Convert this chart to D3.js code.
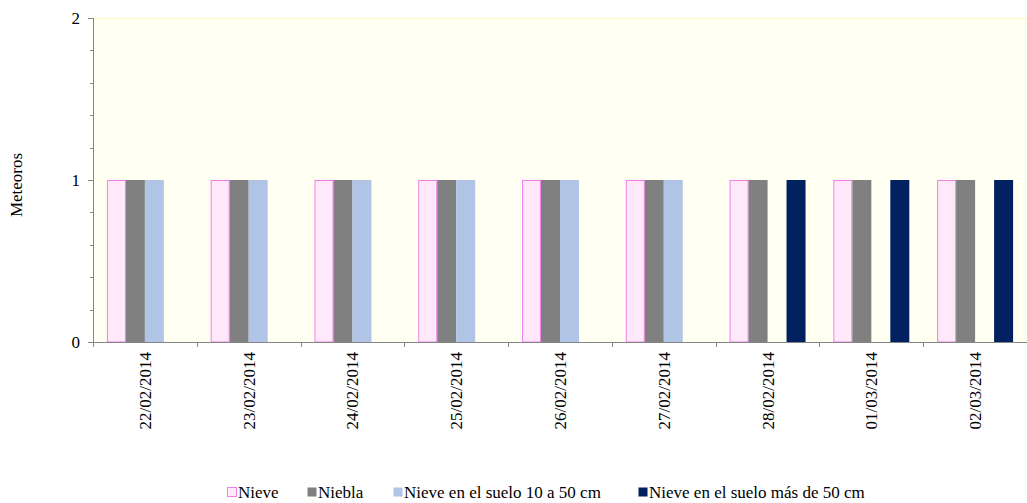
<!DOCTYPE html>
<html><head><meta charset="utf-8">
<script src="https://cdn.jsdelivr.net/npm/d3@7"></script>
</head><body style="margin:0;background:#fff">
<svg id="c" width="1027" height="503" style="font-family:'Liberation Serif';font-size:17px"></svg>
<script>
const categories = ["22/02/2014","23/02/2014","24/02/2014","25/02/2014","26/02/2014","27/02/2014","28/02/2014","01/03/2014","02/03/2014"];
const seriesNames = ["Nieve","Niebla","Nieve en el suelo 10 a 50 cm","Nieve en el suelo más de 50 cm"];
const nieve   = [1,1,1,1,1,1,1,1,1];
const niebla  = [1,1,1,1,1,1,1,1,1];
const suelo10 = [1,1,1,1,1,1,0,0,0];
const suelo50 = [0,0,0,0,0,0,1,1,1];
const yTicks = [0,1,2];

const seriesValues = [nieve, niebla, suelo10, suelo50];
const fills = ["#FFE8FA","#808080","#B0C4E6","#002060"];
const strokes = ["#F080E8","#808080","#B0C4E6","#002060"];

const svg = d3.select("#c");
const L = 93, R = 1027, T = 18, B = 342;

svg.append("rect").attr("x",L).attr("y",T).attr("width",R-L).attr("height",B-T).attr("fill","#FFFFF2");
svg.append("line").attr("x1",L).attr("x2",R).attr("y1",T+0.5).attr("y2",T+0.5).attr("stroke","#FFF8D0").attr("stroke-width",1.5);

const x = d3.scaleBand().domain(categories).range([L,R]).paddingInner(0.268).paddingOuter(0.134);
const x0 = d3.scaleBand().domain(categories).range([L,R]);
const xs = d3.scaleBand().domain(d3.range(4)).range([0,x.bandwidth()]);
const y = d3.scaleLinear().domain([0,2]).range([B,T]);

seriesValues.forEach((vals,si)=>{
  svg.append("g").selectAll("rect").data(categories.map((c,i)=>({c,v:vals[i]})).filter(d=>d.v>0))
    .join("rect")
    .attr("x",d=>x(d.c)+xs(si)+ (si===0?0.5:0))
    .attr("y",d=>y(d.v)+(si===0?0.5:0))
    .attr("width",xs.bandwidth()-(si===0?1:0))
    .attr("height",d=>y(0)-y(d.v)-(si===0?0.5:0))
    .attr("fill",fills[si]).attr("stroke",si===0?strokes[si]:"none").attr("stroke-width",1);
});

// y axis
const yAxis = d3.axisLeft(y).tickValues(yTicks).tickFormat(d3.format("d")).tickSize(5).tickPadding(8);
const ya = svg.append("g").attr("transform",`translate(${L},0)`).call(yAxis);
ya.attr("font-family",null).attr("font-size",null);
ya.select(".domain").attr("stroke","#868686");
ya.selectAll(".tick line").attr("stroke","#868686");
ya.selectAll("text").attr("fill","#000");
// minor ticks
const minor = d3.range(0,2.001,0.2).filter(v=>Math.abs(v-Math.round(v))>1e-6);
svg.append("g").selectAll("line").data(minor).join("line")
  .attr("x1",L-3).attr("x2",L).attr("y1",d=>Math.round(y(d))+0.5).attr("y2",d=>Math.round(y(d))+0.5).attr("stroke","#868686");

// x axis
const xAxis = d3.axisBottom(x0).tickSize(0).tickFormat(d=>d);
const xa = svg.append("g").attr("transform",`translate(0,${B})`).call(xAxis);
xa.attr("font-family",null).attr("font-size",null);
xa.select(".domain").attr("stroke","#868686");
xa.selectAll("text").attr("fill","#000")
  .attr("transform","rotate(-90)").attr("text-anchor","end").attr("x",-10).attr("y",0).attr("dy","0.35em");
// category separator ticks
svg.append("g").selectAll("line").data(categories.concat(["end"])).join("line")
  .attr("x1",(d,i)=>Math.round(L + i*x0.step())+0.5).attr("x2",(d,i)=>Math.round(L + i*x0.step())+0.5)
  .attr("y1",B).attr("y2",B+5).attr("stroke","#868686");

// y label
svg.append("text").attr("transform","translate(22,185) rotate(-90)").attr("text-anchor","middle").text("Meteoros");

// legend
const legendX = [227, 307, 393, 638];
const lg = svg.append("g");
seriesNames.forEach((n,i)=>{
  lg.append("rect").attr("x",legendX[i]+0.5).attr("y",487.5).attr("width",9).attr("height",9)
    .attr("fill",fills[i]).attr("stroke",i===0?strokes[0]:"none");
  lg.append("text").attr("x",legendX[i]+11).attr("y",498).text(n);
});
</script>
</body></html>
